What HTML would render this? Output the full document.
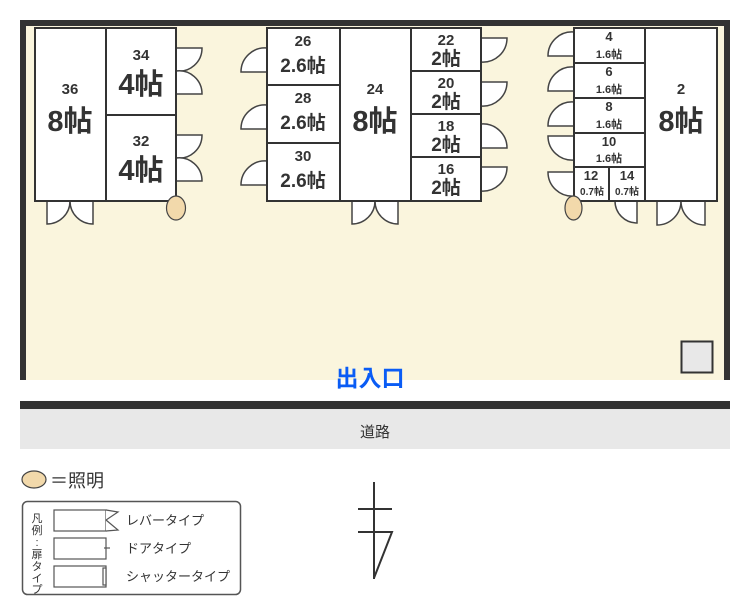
<!DOCTYPE html>
<html><head><meta charset="utf-8"><style>
body{margin:0;background:#fff;width:750px;height:616px;overflow:hidden}
svg{display:block}
text{font-family:"Liberation Sans","Noto Sans CJK JP",sans-serif;fill:#333;font-weight:bold;text-anchor:middle}
</style></head><body>
<svg width="750" height="616" viewBox="0 0 750 616">
<rect x="20" y="20" width="710" height="360" fill="#faf5dd"/>
<rect x="20" y="20" width="710" height="6" fill="#333"/>
<rect x="20" y="20" width="6" height="360" fill="#333"/>
<rect x="724" y="20" width="6" height="360" fill="#333"/>
<rect x="20" y="401" width="710" height="8" fill="#333"/>
<rect x="20" y="409" width="710" height="40" fill="#e8e8e8"/>
<text x="375" y="437" font-size="15" style="font-weight:normal">道路</text>
<text x="370" y="386" font-size="23" style="fill:#0a5cf5">出入口</text>
<rect x="681.5" y="341.5" width="31" height="31" fill="#e8e8e8" stroke="#333" stroke-width="2"/>

<g fill="#fff" stroke="#444" stroke-width="1.5">
<path d="M176 48H202A23 23 0 0 1 176 71Z"/><path d="M176 94H202A23 23 0 0 0 176 71Z"/>
<path d="M176 135H202A23 23 0 0 1 176 158Z"/><path d="M176 181H202A23 23 0 0 0 176 158Z"/>
<path d="M47 201V224A23 23 0 0 0 70 201Z"/><path d="M93 201V224A23 23 0 0 1 70 201Z"/>
<path d="M352 201V224A23 23 0 0 0 375 201Z"/><path d="M398 201V224A23 23 0 0 1 375 201Z"/>
<path d="M657 201V225A24 24 0 0 0 681 201Z"/><path d="M705 201V225A24 24 0 0 1 681 201Z"/>
<path d="M637 201V223A22 22 0 0 1 615 201Z"/>
<path d="M267 72H241A24 24 0 0 1 267 48Z"/>
<path d="M267 129H241A24 24 0 0 1 267 105Z"/>
<path d="M267 185H241A24 24 0 0 1 267 161Z"/>
<path d="M481 38H507A24 24 0 0 1 481 62Z"/>
<path d="M481 82H507A24 24 0 0 1 481 106Z"/>
<path d="M481 148H507A24 24 0 0 0 481 124Z"/>
<path d="M481 167H507A24 24 0 0 1 481 191Z"/>
<path d="M574 56H548A24 24 0 0 1 574 32Z"/>
<path d="M574 91H548A24 24 0 0 1 574 67Z"/>
<path d="M574 126H548A24 24 0 0 1 574 102Z"/>
<path d="M574 136H548A24 24 0 0 0 574 160Z"/>
<path d="M574 172H548A24 24 0 0 0 574 196Z"/>
</g>
<g fill="#fff" stroke="#333" stroke-width="2">
<rect x="35" y="28" width="71" height="173"/>
<rect x="106" y="28" width="70" height="87"/><rect x="106" y="115" width="70" height="86"/>
<rect x="267" y="28" width="73" height="57"/><rect x="267" y="85" width="73" height="58"/><rect x="267" y="143" width="73" height="58"/>
<rect x="340" y="28" width="71" height="173"/>
<rect x="411" y="28" width="70" height="43"/><rect x="411" y="71" width="70" height="43"/><rect x="411" y="114" width="70" height="43"/><rect x="411" y="157" width="70" height="44"/>
<rect x="574" y="28" width="71" height="35"/><rect x="574" y="63" width="71" height="35"/><rect x="574" y="98" width="71" height="35"/><rect x="574" y="133" width="71" height="34"/>
<rect x="574" y="167" width="35" height="34"/><rect x="609" y="167" width="36" height="34"/>
<rect x="645" y="28" width="72" height="173"/>
</g>
<g fill="#f2d9ab" stroke="#444" stroke-width="1.2">
<ellipse cx="176" cy="208" rx="9.5" ry="12"/>
<ellipse cx="573.5" cy="208" rx="8.5" ry="12"/>
<ellipse cx="34" cy="479.5" rx="12" ry="8.5"/>
</g>
<g font-size="15">
<text x="70" y="94">36</text><text x="141" y="60">34</text><text x="141" y="146">32</text>
<text x="303" y="46">26</text><text x="303" y="103">28</text><text x="303" y="161">30</text>
<text x="375" y="94">24</text>
<text x="446" y="45">22</text><text x="446" y="88">20</text><text x="446" y="131">18</text><text x="446" y="174">16</text>
<text x="681" y="94">2</text>
<text x="609" y="41" font-size="13">4</text><text x="609" y="76" font-size="13">6</text><text x="609" y="111" font-size="13">8</text><text x="609" y="146" font-size="13">10</text>
<text x="591" y="180" font-size="13">12</text><text x="627" y="180" font-size="13">14</text>
</g>
<g font-size="29">
<text x="70" y="131">8帖</text><text x="375" y="131">8帖</text><text x="681" y="131">8帖</text>
<text x="141" y="94">4帖</text><text x="141" y="180">4帖</text>
</g>
<g font-size="19">
<text x="303" y="72">2.6帖</text><text x="303" y="129">2.6帖</text><text x="303" y="187">2.6帖</text>
<text x="446" y="65">2帖</text><text x="446" y="108">2帖</text><text x="446" y="151">2帖</text><text x="446" y="194">2帖</text>
</g>
<g font-size="11">
<text x="609" y="58">1.6帖</text><text x="609" y="93">1.6帖</text><text x="609" y="128">1.6帖</text><text x="609" y="162">1.6帖</text>
<text x="592" y="195" font-size="10">0.7帖</text><text x="627" y="195" font-size="10">0.7帖</text>
</g>

<text x="50" y="487" font-size="18" style="text-anchor:start;font-weight:normal">＝照明</text>
<rect x="22.5" y="501.5" width="218" height="93" rx="5" fill="#fff" stroke="#555" stroke-width="1.5"/>
<g font-size="11">
<text x="37" y="522" style="font-weight:normal">凡</text><text x="37" y="534" style="font-weight:normal">例</text>
<text x="37" y="546" style="font-weight:normal">:</text><text x="37" y="558" style="font-weight:normal">扉</text>
<text x="37" y="570" style="font-weight:normal">タ</text><text x="37" y="582" style="font-weight:normal">イ</text><text x="37" y="593" style="font-weight:normal">プ</text>
</g>
<g fill="#fff" stroke="#555" stroke-width="1.2">
<rect x="54" y="510" width="52" height="21"/><path d="M106 510L118 512L106 520L118 530L106 531"/>
<rect x="54" y="538" width="52" height="21"/><path d="M104 548H110"/>
<rect x="54" y="566" width="52" height="21"/><rect x="103" y="568" width="3" height="17"/>
</g>
<g font-size="13">
<text x="126" y="525" style="text-anchor:start;font-weight:normal">レバータイプ</text>
<text x="126" y="553" style="text-anchor:start;font-weight:normal">ドアタイプ</text>
<text x="126" y="581" style="text-anchor:start;font-weight:normal">シャッタータイプ</text>
</g>
<g stroke="#333" stroke-width="2" fill="none">
<path d="M374 482V579"/><path d="M358 509H392"/><path d="M358 532H392L374 578"/>
</g>
</svg>
</body></html>
